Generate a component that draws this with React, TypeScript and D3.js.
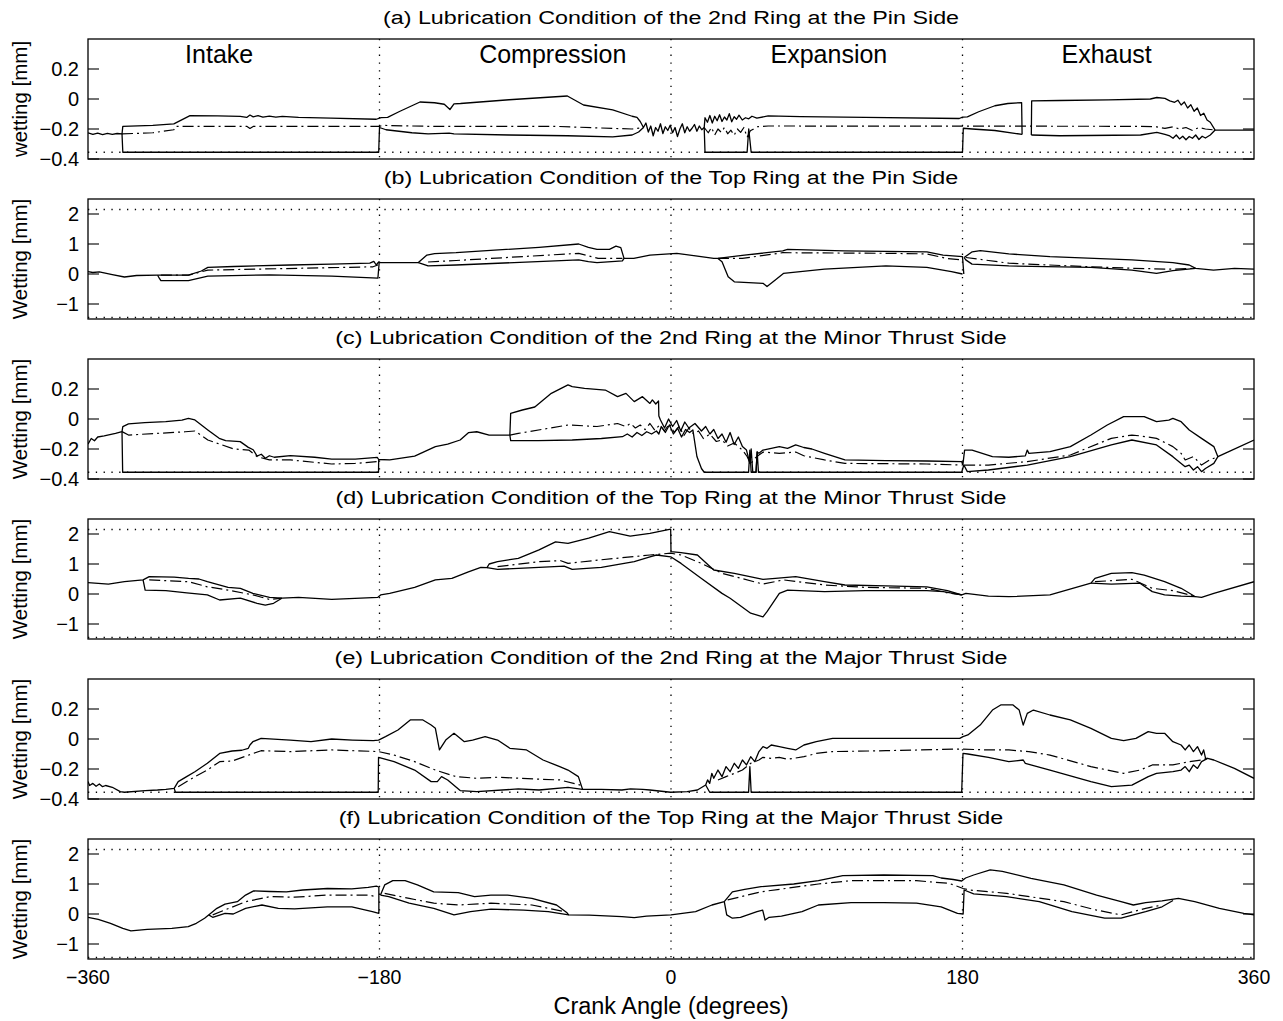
import React, { useEffect } from "react";
import * as d3 from "d3";

type P = [number, number | null];
const N = null;

// ---------- axis texts ----------
const xTicks = [-360, -180, 0, 180, 360];
const xTickLabels = ["\u2212360", "\u2212180", "0", "180", "360"];
const grid = [-180, 0, 180];
const ticks2nd = [-0.4, -0.2, 0, 0.2];
const ticks2ndLabels = ["\u22120.4", "\u22120.2", "0", "0.2"];
const ticksTop = [-1, 0, 1, 2];
const ticksTopLabels = ["\u22121", "0", "1", "2"];
const titles = [
  "(a) Lubrication Condition of the 2nd Ring at the Pin Side",
  "(b) Lubrication Condition of the Top Ring at the Pin Side",
  "(c) Lubrication Condition of the 2nd Ring at the Minor Thrust Side",
  "(d) Lubrication Condition of the Top Ring at the Minor Thrust Side",
  "(e) Lubrication Condition of the 2nd Ring at the Major Thrust Side",
  "(f) Lubrication Condition of the Top Ring at the Major Thrust Side",
];
const yLabels = ["wetting [mm]", "Wetting [mm]", "Wetting [mm]", "Wetting [mm]", "Wetting [mm]", "Wetting [mm]"];
const phases = ["Intake", "Compression", "Expansion", "Exhaust"];
const phaseAngles = [-279, -73, 97.5, 269];
const xLabel = "Crank Angle (degrees)";
const dotted2nd = [-0.355];
const dottedTop = [2.15, -1.45];

// ---------- (a) 2nd ring, pin side ----------
const upperA: P[] = [[-360,-0.225],[-357,-0.236],[-354,-0.227],[-351,-0.237],[-348,-0.229],[-345,-0.236],[-342,-0.23],[-339,-0.233],[-338.5,-0.182],[-320,-0.176],[-307,-0.166],[-297,-0.111],[-280,-0.113],[-266,-0.116],[-262,-0.123],[-260,-0.107],[-258,-0.119],[-255,-0.111],[-252,-0.121],[-248,-0.114],[-244,-0.121],[-240,-0.116],[-230,-0.122],[-210,-0.128],[-182,-0.135],[-179,-0.124],[-175,-0.122],[-168,-0.085],[-160,-0.045],[-155,-0.02],[-146,-0.025],[-140,-0.035],[-136.5,-0.07],[-134,-0.032],[-130,-0.03],[-100,-0.005],[-64,0.02],[-54,-0.04],[-36,-0.073],[-24,-0.115],[-21,-0.122],[-19,-0.15],[-17,-0.19],[-15.5,-0.16],[-14,-0.22],[-12.5,-0.18],[-11,-0.245],[-9.5,-0.19],[-8,-0.215],[-6.5,-0.165],[-5,-0.23],[-3.5,-0.185],[-2,-0.21],[-0.5,-0.175],[1,-0.225],[2.5,-0.19],[4,-0.25],[5.5,-0.2],[7,-0.165],[8.5,-0.225],[10,-0.185],[11.5,-0.215],[13,-0.195],[14.5,-0.17],[16,-0.215],[17.5,-0.18],[19,-0.205],[20.5,-0.19],[21,-0.125],[22.5,-0.155],[24,-0.11],[25.5,-0.16],[27,-0.115],[28.5,-0.145],[30,-0.105],[31.5,-0.15],[33,-0.12],[34.5,-0.14],[36,-0.098],[37.5,-0.152],[39,-0.118],[40.5,-0.135],[42,-0.108],[44,-0.14],[46,-0.125],[48,-0.132],[50,-0.115],[53,-0.128],[60,-0.113],[80,-0.118],[120,-0.123],[178,-0.13],[180,-0.121],[183,-0.119],[190,-0.085],[200,-0.045],[208,-0.03],[216.5,-0.024],[216.8,-0.236],[219,N],[222.5,-0.24],[222.7,-0.013],[240,-0.01],[270,-0.006],[296,0.0],[300,0.01],[305,0.004],[308,-0.012],[311,-0.022],[313,-0.008],[315,-0.04],[317,-0.02],[319,-0.06],[321,-0.038],[323,-0.082],[325,-0.06],[327,-0.11],[329,-0.095],[331,-0.14],[333,-0.155],[336,-0.207],[345,-0.207],[360,-0.207]];
const lowerA: P[] = [[-339,-0.233],[-338.5,-0.355],[-180.5,-0.355],[-180,-0.19],[-176,-0.205],[-160,-0.225],[-150,-0.233],[-137,-0.228],[-134,-0.233],[-100,-0.24],[-64,-0.245],[-36,-0.252],[-24,-0.24],[-20,-0.22],[-17,-0.19],[0,N],[20.5,-0.19],[21,-0.355],[47,-0.355],[48,-0.2],[49.5,-0.355],[180,-0.355],[180.5,-0.195],[186,-0.2],[200,-0.21],[216.8,-0.236],[219,N],[222.5,-0.24],[240,-0.245],[290,-0.24],[300,-0.222],[305,-0.236],[308,-0.246],[310,-0.262],[312,-0.24],[314,-0.266],[316,-0.248],[318,-0.272],[320,-0.25],[322,-0.262],[324,-0.24],[326,-0.27],[328,-0.248],[330,-0.26],[333,-0.24],[336,-0.207]];
const midA: P[] = [[-339,-0.233],[-320,-0.225],[-307,-0.205],[-306,-0.182],[-262,-0.182],[-260,-0.196],[-258,-0.183],[-180,-0.182],[-178,-0.176],[-150,-0.182],[-70,-0.183],[-36,-0.196],[-24,-0.2],[-17,-0.19],[0,N],[20.5,-0.19],[23,-0.225],[25,-0.19],[27,-0.24],[29,-0.2],[31,-0.222],[33,-0.19],[35,-0.232],[37,-0.208],[39,-0.242],[41,-0.2],[43,-0.222],[45,-0.19],[47,-0.255],[49,-0.212],[51,-0.2],[53,-0.185],[60,-0.18],[290,-0.182],[300,-0.186],[305,-0.196],[310,-0.185],[314,-0.2],[318,-0.19],[322,-0.21],[326,-0.19],[330,-0.2],[336,-0.207]];

// ---------- (b) top ring, pin side ----------
const upperB: P[] = [[-360,0.08],[-357,0.05],[-353,0.07],[-345,-0.02],[-337.5,-0.1],[-330,-0.05],[-317,-0.04],[-298,-0.04],[-290,0.1],[-286,0.22],[-270,0.25],[-235,0.3],[-210,0.33],[-186,0.36],[-183.5,0.42],[-182,0.3],[-180.5,0.4],[-180,0.38],[-170,0.38],[-156,0.38],[-150.7,0.63],[-146,0.68],[-132.7,0.71],[-81.5,0.89],[-57,1.0],[-51,0.89],[-45.7,0.82],[-38,0.82],[-34,0.93],[-31,0.88],[-29,0.52],[-23,0.52],[-13,0.63],[3.6,0.69],[26.4,0.52],[29,0.52],[44,0.62],[69,0.77],[72,0.82],[107,0.77],[158,0.74],[168,0.63],[180,0.58],[180.8,0.0],[180.9,N],[181,0.55],[186,0.74],[191,0.78],[208.6,0.67],[234,0.58],[284.6,0.47],[309.9,0.38],[320,0.3],[324,0.19],[335,0.13],[348,0.19],[360,0.16]];
const lowerB: P[] = [[-317,-0.04],[-316,-0.14],[-315,-0.22],[-298,-0.22],[-286,-0.07],[-248,-0.03],[-209.5,-0.07],[-181,-0.14],[-180.2,0.38],[-170,N],[-156,0.38],[-150,0.27],[-132.7,0.3],[-57,0.47],[-51,0.41],[-45.7,0.38],[-30,0.44],[-29,0.52],[0,N],[29,0.52],[31.5,0.41],[35.3,-0.09],[39.1,-0.26],[56.8,-0.31],[59.3,-0.42],[64.4,-0.2],[69.4,0.02],[94.8,0.16],[132.7,0.27],[158,0.22],[173.2,0.08],[180,0.0],[180.5,N],[181,0.55],[182,0.47],[185.9,0.33],[208.6,0.27],[259.3,0.22],[284.6,0.13],[299.8,0.02],[309.9,0.11],[324,0.19]];
const midB: P[] = [[-315,-0.04],[-298,-0.04],[-286,0.13],[-184,0.24],[-181,0.3],[-170,N],[-150,0.4],[-132.7,0.45],[-57,0.69],[-45,0.52],[-30,0.52],[0,N],[29,0.52],[44,0.52],[69,0.71],[132.7,0.69],[158,0.67],[170,0.52],[180,0.47],[181,N],[182,0.55],[208.6,0.36],[246,0.27],[284.6,0.19],[309.9,0.16],[324,0.19]];

// ---------- (c) 2nd ring, minor thrust side ----------
const upperC: P[] = [[-360,-0.167],[-358,-0.13],[-356,-0.145],[-354,-0.12],[-350,-0.113],[-343,-0.096],[-339,-0.084],[-338.5,-0.051],[-335,-0.033],[-325,-0.024],[-312,-0.018],[-302,-0.007],[-298,0.004],[-294,-0.006],[-286,-0.073],[-279,-0.129],[-275,-0.144],[-266,-0.151],[-261,-0.189],[-258,-0.205],[-255.6,-0.247],[-253,-0.235],[-250.5,-0.262],[-248,-0.245],[-245,-0.255],[-235,-0.244],[-220,-0.255],[-209.5,-0.267],[-195,-0.267],[-181.4,-0.256],[-180.5,-0.27],[-173.7,-0.273],[-158.3,-0.247],[-145.5,-0.184],[-137.9,-0.167],[-130.2,-0.14],[-125.1,-0.091],[-119.9,-0.085],[-112.3,-0.107],[-99.5,-0.107],[-99,0.038],[-91.8,0.06],[-84.1,0.08],[-73.9,0.171],[-63.6,0.227],[-61,0.216],[-53.4,0.204],[-40.6,0.193],[-33,0.149],[-27.8,0.171],[-22.7,0.116],[-17.6,0.149],[-13,0.104],[-11.5,0.127],[-9.4,0.1],[-7.7,0.12],[-7.5,0.02],[-6.5,-0.007],[-4,-0.06],[-1.5,0.0],[1,-0.05],[3.5,-0.01],[6,-0.08],[8.5,-0.02],[11,-0.06],[14.8,-0.03],[18.8,-0.08],[21.4,-0.05],[24,-0.1],[26.4,-0.07],[29,-0.13],[31.5,-0.1],[34,-0.155],[36.5,-0.09],[39,-0.17],[41.6,-0.12],[44.1,-0.184],[46.6,-0.207],[48.7,-0.296],[49.5,-0.2],[50.5,-0.355],[52.5,-0.355],[53.2,-0.22],[54.3,-0.229],[56.8,-0.207],[61.9,-0.196],[66.9,-0.184],[72,-0.196],[77,-0.173],[82,-0.19],[87,-0.2],[94.8,-0.229],[107.4,-0.273],[132.7,-0.278],[158,-0.28],[179.5,-0.284],[180.2,-0.307],[181.3,-0.207],[185.9,-0.207],[198.5,-0.251],[208.6,-0.255],[218.8,-0.246],[220,-0.207],[221,-0.229],[234,-0.218],[246.6,-0.184],[259.3,-0.107],[269.4,-0.04],[279.5,0.016],[292.2,0.016],[299.8,-0.018],[307.4,-0.007],[309.9,0.004],[315,-0.018],[320,-0.073],[327.6,-0.129],[335.2,-0.184],[337.7,-0.251],[360,-0.14]];
const lowerC: P[] = [[-339,-0.084],[-338.6,-0.355],[-180.6,-0.355],[-180.5,-0.27],[-150,N],[-99.5,-0.107],[-99,-0.144],[-82,-0.144],[-61,-0.14],[-43,-0.13],[-30,-0.118],[-27,-0.1],[-24,-0.12],[-21,-0.09],[-18,-0.11],[-15,-0.085],[-12,-0.1],[-9,-0.08],[-7.5,-0.1],[-6,-0.05],[-3.5,-0.09],[-1,-0.04],[1.5,-0.1],[4,-0.06],[6.5,-0.12],[9,-0.07],[11.5,-0.09],[13.5,-0.073],[16,-0.25],[18.8,-0.33],[20.5,-0.355],[47.9,-0.355],[48.7,-0.207],[49.5,-0.355],[52.5,-0.355],[53.2,-0.22],[54,-0.355],[179.5,-0.355],[180.8,-0.307],[183,-0.351],[196,-0.34],[220,-0.307],[246.6,-0.251],[271.9,-0.173],[284.6,-0.14],[299.8,-0.173],[309.9,-0.251],[315,-0.296],[317.5,-0.318],[320,-0.307],[322.6,-0.34],[325.1,-0.318],[327.6,-0.351],[330,-0.33],[335.2,-0.296],[337.7,-0.251]];
const midC: P[] = [[-339,-0.084],[-335,-0.107],[-300,-0.085],[-294,-0.08],[-286,-0.14],[-270,-0.2],[-260.7,-0.207],[-255.6,-0.251],[-248,-0.273],[-235,-0.273],[-209.5,-0.3],[-195,-0.296],[-181.4,-0.284],[-180.5,-0.27],[-150,N],[-99.5,-0.107],[-94.3,-0.096],[-63.6,-0.04],[-45.7,-0.05],[-33,-0.03],[-28,-0.05],[-25,-0.03],[-22,-0.06],[-19,-0.04],[-16,-0.07],[-13,-0.03],[-10,-0.075],[-7,-0.04],[-4,-0.08],[-1,-0.03],[2,-0.09],[5,-0.05],[8,-0.11],[11,-0.06],[14,-0.1],[17,-0.08],[20,-0.13],[24,-0.1],[28,-0.15],[31.5,-0.14],[35,-0.18],[39,-0.16],[44.1,-0.207],[47,-0.25],[49.2,-0.3],[52,-0.26],[54.3,-0.24],[57,-0.22],[66.9,-0.229],[77,-0.22],[82,-0.245],[94.8,-0.273],[107.4,-0.296],[158,-0.3],[179.5,-0.307],[180.5,N],[181,-0.307],[196,-0.307],[220,-0.284],[246.6,-0.24],[271.9,-0.129],[284.6,-0.107],[290,-0.113],[299.8,-0.129],[309.9,-0.184],[315,-0.229],[317.5,-0.273],[322.6,-0.251],[327.6,-0.307],[332.6,-0.273],[337.7,-0.251]];

// ---------- (d) top ring, minor thrust side ----------
const upperD: P[] = [[-360,0.38],[-347.4,0.33],[-337.5,0.41],[-326,0.47],[-322.2,0.58],[-306.8,0.56],[-297.9,0.52],[-291.5,0.5],[-286.3,0.41],[-273.5,0.22],[-265.9,0.19],[-258.2,0.02],[-247.9,-0.11],[-240.3,-0.14],[-230,-0.11],[-209.5,-0.18],[-191.6,-0.14],[-181,-0.11],[-179.3,-0.03],[-173.7,0.02],[-158.3,0.22],[-145.5,0.47],[-135.3,0.52],[-125.1,0.74],[-117.4,0.89],[-113.6,0.88],[-112.3,1.0],[-107.1,1.08],[-94.3,1.19],[-81.5,1.47],[-71.3,1.74],[-63.6,1.69],[-50.8,1.86],[-38,2.08],[-25.2,1.93],[-13,2.02],[-0.2,2.16],[0,1.41],[6.2,1.38],[16.3,1.3],[26.4,0.8],[39.1,0.69],[56.8,0.49],[64.4,0.52],[77,0.58],[94.8,0.41],[107.4,0.3],[132.7,0.27],[158,0.24],[170.7,0.11],[179.5,-0.03],[182.1,0.02],[196,-0.07],[208.6,-0.09],[234,-0.03],[259.3,0.36],[261.8,0.52],[271.9,0.69],[284.6,0.71],[292.2,0.63],[304.8,0.41],[315,0.19],[323.8,-0.09],[327.6,-0.11],[335.2,0.02],[360,0.41]];
const lowerD: P[] = [[-326,0.47],[-324.7,0.13],[-311.9,0.11],[-299,0.04],[-286.3,-0.03],[-278.7,-0.2],[-265.9,-0.14],[-255.6,-0.31],[-250.5,-0.37],[-245.4,-0.31],[-240.3,-0.14],[-200,N],[-113.6,0.88],[-107.1,0.82],[-81.5,0.89],[-66,0.93],[-61,0.82],[-43,0.89],[-22.7,1.08],[-13,1.24],[-9,1.3],[-0.2,1.24],[6.2,1.02],[18.8,0.52],[31.5,0.02],[36.5,-0.14],[49.2,-0.64],[56.8,-0.76],[59.3,-0.59],[66.9,0.02],[72,0.13],[94.8,0.08],[120,0.11],[158,0.11],[168.2,0.08],[179.5,-0.03],[220,N],[259.3,0.36],[271.9,0.33],[289.6,0.36],[297.2,0.08],[304.8,-0.03],[315,-0.07],[323.8,-0.09]];
const midD: P[] = [[-322.2,0.47],[-297.9,0.41],[-286.3,0.24],[-273.5,0.13],[-258.2,-0.03],[-247.9,-0.18],[-240.3,-0.14],[-200,N],[-107.1,0.91],[-81.5,1.08],[-68,1.11],[-63.6,1.02],[-45,1.13],[-13,1.3],[-0.2,1.36],[6.2,1.3],[18.8,1.02],[31.5,0.69],[56.8,0.33],[69.4,0.47],[94.8,0.3],[120,0.22],[158,0.19],[170.7,0.04],[179.5,-0.03],[220,N],[261.8,0.41],[284.6,0.49],[297.2,0.19],[309.9,0.11],[320,-0.03],[323.8,-0.09]];

// ---------- (e) 2nd ring, major thrust side ----------
const upperE: P[] = [[-360,-0.284],[-359,-0.31],[-357,-0.296],[-355,-0.315],[-353,-0.3],[-351,-0.318],[-349.1,-0.31],[-345,-0.322],[-340.1,-0.351],[-337.5,-0.355],[-324.7,-0.344],[-317.1,-0.34],[-311.9,-0.336],[-306.8,-0.329],[-304.3,-0.284],[-299.1,-0.251],[-294,-0.218],[-286.3,-0.162],[-278.7,-0.096],[-271,-0.08],[-265,-0.075],[-261,-0.062],[-260,-0.04],[-258.2,-0.018],[-253.1,0.004],[-235.1,-0.007],[-222.3,-0.018],[-209.5,0.0],[-196.7,-0.007],[-183.9,-0.011],[-180.6,-0.007],[-176.3,0.016],[-168.6,0.06],[-161,0.127],[-153.2,0.127],[-148.1,0.093],[-145.5,0.071],[-143,-0.073],[-139.1,-0.007],[-134,0.038],[-127.6,-0.018],[-122.5,-0.007],[-114.8,0.016],[-107.1,-0.007],[-99.5,-0.062],[-89.2,-0.073],[-79,-0.14],[-68.7,-0.184],[-63.6,-0.207],[-57.2,-0.251],[-54.6,-0.336],[-43.1,-0.336],[-30.3,-0.34],[-25,-0.332],[-17.5,-0.336],[-13,-0.34],[-0.2,-0.355],[10,-0.351],[16.3,-0.34],[21.4,-0.307],[22.6,-0.273],[23.9,-0.296],[25.2,-0.229],[26.4,-0.262],[29,-0.207],[31.5,-0.251],[34,-0.184],[36.5,-0.218],[39.1,-0.162],[41.6,-0.196],[44.1,-0.14],[46.6,-0.173],[49.2,-0.118],[51.7,-0.151],[54.3,-0.084],[56.8,-0.051],[59.3,-0.062],[61.9,-0.04],[66.9,-0.051],[72,-0.062],[77,-0.073],[82.1,-0.04],[89.7,-0.018],[99.8,0.004],[150.4,0.004],[178.3,0.004],[180.3,0.016],[183.3,0.027],[190.9,0.093],[198.5,0.193],[203.6,0.227],[211.2,0.227],[215,0.193],[217.5,0.093],[220,0.171],[223.8,0.193],[234,0.16],[246.6,0.127],[259.3,0.071],[271.9,0.004],[279.5,-0.011],[287.1,0.004],[294.7,0.049],[299.8,0.038],[304.8,0.038],[309.9,-0.018],[315,-0.04],[317.5,-0.073],[320,-0.04],[322.6,-0.084],[325.1,-0.051],[327.6,-0.107],[328.9,-0.073],[330.1,-0.129],[331.4,-0.129],[335.2,-0.14],[347.9,-0.196],[360,-0.262]];
const lowerE: P[] = [[-306.8,-0.329],[-306,-0.355],[-180.8,-0.355],[-180.6,-0.122],[-171,-0.151],[-158.3,-0.207],[-148.1,-0.284],[-144.3,-0.284],[-141.7,-0.251],[-137.9,-0.273],[-130.2,-0.344],[-119.9,-0.351],[-94.3,-0.333],[-81.5,-0.34],[-63.6,-0.322],[-54.6,-0.336],[0,N],[21.4,-0.307],[23.9,-0.355],[47.9,-0.355],[48.7,-0.184],[49.5,-0.355],[179.5,-0.355],[180.3,-0.096],[183.3,-0.1],[196,-0.122],[208.6,-0.151],[217.5,-0.14],[218.8,-0.162],[234,-0.207],[259.3,-0.284],[271.9,-0.318],[284.6,-0.307],[294.7,-0.251],[299.8,-0.229],[309.9,-0.218],[315,-0.207],[317.5,-0.184],[320,-0.218],[322.6,-0.173],[325.1,-0.196],[327.6,-0.151],[331.4,-0.129]];
const midE: P[] = [[-304.3,-0.318],[-294,-0.251],[-286.3,-0.207],[-278.7,-0.151],[-271,-0.147],[-260.7,-0.107],[-253.1,-0.078],[-235.1,-0.084],[-209.5,-0.073],[-180.6,-0.084],[-171,-0.107],[-158.3,-0.151],[-145.5,-0.207],[-132.7,-0.251],[-119.9,-0.262],[-107.1,-0.255],[-81.5,-0.268],[-68.7,-0.273],[-55.9,-0.307],[-54.6,-0.336],[0,N],[29,-0.273],[34,-0.251],[39.1,-0.229],[44.1,-0.207],[49.2,-0.162],[54.3,-0.14],[56.8,-0.122],[61.9,-0.129],[66.9,-0.122],[72,-0.135],[82.1,-0.118],[89.7,-0.096],[99.8,-0.084],[132.7,-0.078],[178.3,-0.067],[196,-0.073],[208.6,-0.073],[221,-0.084],[234,-0.107],[259.3,-0.184],[279.5,-0.229],[289.6,-0.207],[297.2,-0.173],[309.9,-0.173],[320,-0.151],[327.6,-0.14],[331.4,-0.129]];

// ---------- (f) top ring, major thrust side ----------
const upperF: P[] = [[-360,-0.11],[-353.7,-0.18],[-346.1,-0.31],[-338.5,-0.48],[-333.5,-0.56],[-323.4,-0.51],[-308.2,-0.48],[-298.1,-0.42],[-293.1,-0.31],[-288,-0.14],[-285.5,-0.03],[-280.4,0.19],[-275.4,0.33],[-267.8,0.41],[-262.7,0.63],[-257.7,0.77],[-247.6,0.75],[-237.5,0.74],[-227.4,0.8],[-212.2,0.85],[-197.1,0.84],[-187,0.89],[-181.9,0.93],[-180.4,0.9],[-180,N],[-179.4,0.63],[-176.8,0.97],[-171.8,1.11],[-164.2,1.11],[-156.6,0.97],[-146.5,0.74],[-131.4,0.71],[-121.3,0.58],[-111.2,0.63],[-101,0.63],[-85.9,0.52],[-70.7,0.3],[-64.2,0.04],[-63.2,-0.03],[-50.5,-0.04],[-30.3,-0.09],[-22.7,-0.12],[-15.1,-0.07],[0,-0.03],[15.2,0.08],[25.3,0.3],[32.9,0.41],[37.9,0.74],[45.5,0.82],[55.6,0.91],[75.8,1.0],[91,1.11],[106.1,1.28],[131.4,1.3],[161.7,1.28],[166.8,1.2],[174.3,1.15],[179.5,1.1],[181.9,1.2],[186.9,1.3],[197.1,1.47],[204.6,1.42],[222.3,1.19],[242.6,0.97],[262.8,0.63],[277.9,0.41],[285.5,0.3],[293.1,0.38],[303.2,0.44],[313.3,0.52],[323.4,0.41],[338.6,0.19],[353.7,0.02],[360,-0.03]];
const lowerF: P[] = [[-285.5,-0.03],[-283,-0.11],[-275.4,0.02],[-270.3,0.0],[-262.7,0.19],[-252.6,0.3],[-242.5,0.19],[-232.4,0.17],[-212.2,0.24],[-197.1,0.24],[-184.4,0.08],[-180.4,0.02],[-180.4,0.9],[-180,N],[-179.4,0.63],[-174.3,0.58],[-161.7,0.36],[-146.5,0.19],[-134,-0.03],[-123.8,0.08],[-111.2,0.16],[-91,0.13],[-75.8,0.08],[-63.2,-0.03],[0,N],[32.9,0.41],[34.4,-0.03],[37.9,-0.14],[42.9,-0.11],[53.1,0.08],[56.6,0.13],[58.1,-0.2],[60.6,-0.11],[68.2,-0.07],[80.9,0.08],[91,0.3],[111.2,0.38],[131.4,0.38],[151.6,0.36],[166.8,0.24],[176.9,0.02],[180.4,0.0],[181,0.8],[186.9,0.67],[207.2,0.58],[227.4,0.41],[247.6,0.08],[267.8,-0.14],[277.9,-0.14],[293.1,0.08],[303.2,0.24],[310,0.45]];
const midF: P[] = [[-283,-0.03],[-262.7,0.41],[-247.6,0.58],[-232.4,0.56],[-212.2,0.63],[-187,0.63],[-181.9,0.58],[-180,N],[-176.8,0.69],[-161.7,0.52],[-146.5,0.36],[-131.4,0.3],[-111.2,0.36],[-85.9,0.3],[-65.7,0.08],[0,N],[35,0.47],[55.6,0.74],[91,1.0],[111.2,1.11],[151.6,1.11],[171.8,1.02],[180.4,0.85],[184.4,0.8],[207.2,0.69],[242.6,0.41],[262.8,0.13],[277.9,-0.03],[293.1,0.19],[303.2,0.3]];

const uppers = [upperA, upperB, upperC, upperD, upperE, upperF];
const lowers = [lowerA, lowerB, lowerC, lowerD, lowerE, lowerF];
const mids = [midA, midB, midC, midD, midE, midF];

// ---------- layout ----------
const W = 1283, H = 1021;
const L = 88, R = 1254;
const PH = 120;
const tops = [39, 199, 359, 519, 679, 839];
const FONT = "'Liberation Sans', Arial, Helvetica, sans-serif";

export default function App() {
  useEffect(() => {
    document.body.style.margin = "0";
  }, []);

  const x = d3.scaleLinear().domain([-360, 360]).range([L, R]);

  return (
    <svg width={W} height={H} style={{ display: "block", background: "#fff" }} fontFamily={FONT}>
      <rect x={0} y={0} width={W} height={H} fill="#fff" />
      <defs>
        {tops.map((t, i) => (
          <clipPath id={`clip${i}`} key={i}>
            <rect x={L} y={t} width={R - L} height={PH} />
          </clipPath>
        ))}
      </defs>
      {tops.map((t, i) => {
        const isTop = i % 2 === 1;
        const y = d3
          .scaleLinear()
          .domain(isTop ? [-1.5, 2.5] : [-0.4, 0.4])
          .range([t + PH, t]);
        const ticks = isTop ? ticksTop : ticks2nd;
        const tlabels = isTop ? ticksTopLabels : ticks2ndLabels;
        const dots = isTop ? dottedTop : dotted2nd;
        const line = d3
          .line<P>()
          .defined((d) => d[1] !== null)
          .x((d) => x(d[0]))
          .y((d) => y(d[1] as number));
        return (
          <g key={i}>
            <g transform={`translate(671,${t - 15}) scale(1.24,1)`}>
              <text textAnchor="middle" fontSize={18.8} fill="#000">
                {titles[i]}
              </text>
            </g>
            <text
              transform={`translate(27,${t + PH / 2}) rotate(-90)`}
              textAnchor="middle"
              fontSize={20.5}
              fill="#000"
            >
              {yLabels[i]}
            </text>
            {grid.map((g) => (
              <line key={`g${g}`} x1={x(g)} x2={x(g)} y1={t} y2={t + PH} stroke="#000" strokeWidth={1.3} strokeDasharray="1.3 6.5" />
            ))}
            {dots.map((v) => (
              <line key={`d${v}`} x1={L} x2={R} y1={y(v)} y2={y(v)} stroke="#000" strokeWidth={1.3} strokeDasharray="1.3 6.5" />
            ))}
            {ticks.map((v, k) => (
              <g key={`t${v}`}>
                <line x1={L} x2={L + 11} y1={y(v)} y2={y(v)} stroke="#000" strokeWidth={1.1} />
                <line x1={R - 11} x2={R} y1={y(v)} y2={y(v)} stroke="#000" strokeWidth={1.1} />
                <text x={79} y={y(v)} dy="0.36em" textAnchor="end" fontSize={20} fill="#000">
                  {tlabels[k]}
                </text>
              </g>
            ))}
            <g clipPath={`url(#clip${i})`} fill="none" stroke="#000" strokeLinejoin="round">
              <path d={line(uppers[i]) || ""} strokeWidth={1.3} />
              <path d={line(lowers[i]) || ""} strokeWidth={1.3} />
              <path d={line(mids[i]) || ""} strokeWidth={1.2} strokeDasharray="11 4 2 4" />
            </g>
            <rect x={L} y={t} width={R - L} height={PH} fill="none" stroke="#000" strokeWidth={1.3} />
            {i === 0 &&
              phases.map((p, k) => (
                <text key={p} x={x(phaseAngles[k])} y={t + 24} textAnchor="middle" fontSize={25} fill="#000">
                  {p}
                </text>
              ))}
          </g>
        );
      })}
      {xTicks.map((v, k) => (
        <text key={v} x={x(v)} y={tops[5] + PH + 25} textAnchor="middle" fontSize={19.5} fill="#000">
          {xTickLabels[k]}
        </text>
      ))}
      <text x={(L + R) / 2} y={1014} textAnchor="middle" fontSize={23.5} fill="#000">
        {xLabel}
      </text>
    </svg>
  );
}
